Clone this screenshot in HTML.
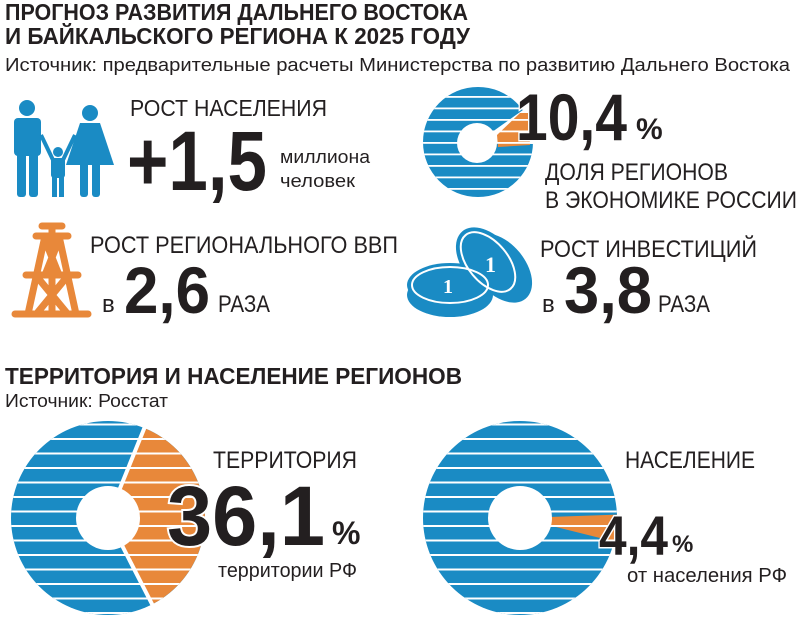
<!DOCTYPE html>
<html><head><meta charset="utf-8"><style>
html,body{margin:0;padding:0;background:#fff;}
svg{display:block;}
text{font-family:"Liberation Sans Narrow","Liberation Sans",sans-serif;fill:#231f20;}
.b{font-weight:bold;}
</style></head><body>
<svg width="800" height="618" viewBox="0 0 800 618" xmlns="http://www.w3.org/2000/svg">
<defs>
<pattern id="st" patternUnits="userSpaceOnUse" width="800" height="14.5" y="3"><rect x="0" y="0" width="800" height="2" fill="#fff"/></pattern>
<pattern id="st2" patternUnits="userSpaceOnUse" width="800" height="11.5" y="4"><rect x="0" y="0" width="800" height="1.8" fill="#fff"/></pattern>
</defs>

<text class="b" x="5" y="20" font-size="23" textLength="463" lengthAdjust="spacingAndGlyphs">ПРОГНОЗ РАЗВИТИЯ ДАЛЬНЕГО ВОСТОКА</text>
<text class="b" x="5" y="44" font-size="23" textLength="465" lengthAdjust="spacingAndGlyphs">И БАЙКАЛЬСКОГО РЕГИОНА К 2025 ГОДУ</text>
<text x="5" y="71" font-size="18" textLength="785" lengthAdjust="spacingAndGlyphs">Источник: предварительные расчеты Министерства по развитию Дальнего Востока</text>

<g fill="#1a8bc4">
<circle cx="27" cy="108" r="8"/>
<rect x="14" y="118" width="27" height="38" rx="4"/>
<rect x="17" y="150" width="9" height="47" rx="3"/>
<rect x="29" y="150" width="9" height="47" rx="3"/>
<circle cx="90" cy="113" r="8"/>
<polygon points="80,123 100,123 114,165 66,165"/>
<rect x="80" y="160" width="8" height="37" rx="3"/>
<rect x="92" y="160" width="8" height="37" rx="3"/>
<circle cx="58" cy="152" r="5"/>
<rect x="51" y="158" width="14" height="20" rx="3"/>
<rect x="52" y="175" width="5" height="22"/>
<rect x="59" y="175" width="5" height="22"/>
<path d="M41,135 L53,160 M75,135 L63,160" stroke="#1a8bc4" stroke-width="4"/>
</g>

<text x="130" y="116" font-size="23" textLength="197" lengthAdjust="spacingAndGlyphs">РОСТ НАСЕЛЕНИЯ</text>
<text class="b" x="127" y="190" font-size="84" textLength="140" lengthAdjust="spacingAndGlyphs">+1,5</text>
<text x="280" y="163" font-size="18" textLength="90" lengthAdjust="spacingAndGlyphs">миллиона</text>
<text x="280" y="187" font-size="18" textLength="75" lengthAdjust="spacingAndGlyphs">человек</text>

<g stroke="#e8883a" stroke-width="7" fill="none" stroke-linecap="round">
<line x1="42" y1="226" x2="62" y2="226"/>
<line x1="36" y1="236" x2="68" y2="236"/>
<line x1="26" y1="275" x2="78" y2="275"/>
<line x1="15" y1="314" x2="88" y2="314"/>
<path d="M45,236 L28,314 M59,236 L76,314 M52,228 L52,314"/>
<path d="M45,240 L59,275 M59,240 L45,275 M38,278 L66,312 M66,278 L38,312"/>
</g>
<text x="90" y="253" font-size="24" textLength="308" lengthAdjust="spacingAndGlyphs">РОСТ РЕГИОНАЛЬНОГО ВВП</text>
<text x="102" y="312" font-size="24">в</text>
<text class="b" x="124" y="313" font-size="66" textLength="86" lengthAdjust="spacingAndGlyphs">2,6</text>
<text x="218" y="312" font-size="24" textLength="52" lengthAdjust="spacingAndGlyphs">РАЗА</text>

<circle cx="478" cy="142" r="55" fill="#1a8bc4"/>
<path d="M478,142 L523,110 A55,55 0 0 1 533,144 Z" fill="#fff"/>
<path d="M497,135 L520,113 L528,113 L530,145 L498,147 Z" fill="#e8883a"/>
<circle cx="478" cy="142" r="55" fill="url(#st2)"/>
<circle cx="477" cy="143" r="20" fill="#fff"/>
<text class="b" x="516" y="140" font-size="66" textLength="111" lengthAdjust="spacingAndGlyphs" stroke="#fff" stroke-width="3" paint-order="stroke">10,4</text>
<text class="b" x="636" y="139" font-size="30">%</text>
<text x="545" y="180" font-size="24" textLength="183" lengthAdjust="spacingAndGlyphs">ДОЛЯ РЕГИОНОВ</text>
<text x="545" y="208" font-size="24" textLength="252" lengthAdjust="spacingAndGlyphs">В ЭКОНОМИКЕ РОССИИ</text>

<g fill="#1a8bc4">
<ellipse cx="500" cy="268" rx="25" ry="40" transform="rotate(-40 500 268)"/>
<ellipse cx="488" cy="262" rx="25" ry="40" transform="rotate(-40 488 262)"/>
<ellipse cx="450" cy="295" rx="43" ry="22"/>
<ellipse cx="450" cy="285" rx="43" ry="22"/>
</g>
<ellipse cx="450" cy="285" rx="38" ry="18" fill="none" stroke="#fff" stroke-width="2"/>
<ellipse cx="488" cy="262" rx="20" ry="35" transform="rotate(-40 488 262)" fill="none" stroke="#fff" stroke-width="2"/>
<text x="443" y="293" font-size="20" class="b" style="fill:#fff;font-family:'Liberation Serif',serif">1</text>
<text x="485" y="272" font-size="22" class="b" style="fill:#fff;font-family:'Liberation Serif',serif">1</text>

<text x="540" y="257" font-size="24" textLength="217" lengthAdjust="spacingAndGlyphs">РОСТ ИНВЕСТИЦИЙ</text>
<text x="542" y="312" font-size="24">в</text>
<text class="b" x="564" y="313" font-size="66" textLength="88" lengthAdjust="spacingAndGlyphs">3,8</text>
<text x="658" y="312" font-size="24" textLength="52" lengthAdjust="spacingAndGlyphs">РАЗА</text>

<text class="b" x="5" y="384" font-size="23" textLength="457" lengthAdjust="spacingAndGlyphs">ТЕРРИТОРИЯ И НАСЕЛЕНИЕ РЕГИОНОВ</text>
<text x="5" y="407" font-size="18" textLength="163" lengthAdjust="spacingAndGlyphs">Источник: Росстат</text>

<circle cx="108" cy="518" r="97" fill="#1a8bc4"/>
<path d="M108,518 L144.4,428.1 A97,97 0 0 1 152,604.4 Z" fill="#e8883a"/>
<circle cx="108" cy="518" r="97" fill="url(#st)"/>
<path d="M108,518 L146,424 M108,518 L154,608" stroke="#fff" stroke-width="4"/>
<circle cx="108" cy="518" r="32" fill="#fff"/>
<text x="213" y="468" font-size="24" textLength="144" lengthAdjust="spacingAndGlyphs">ТЕРРИТОРИЯ</text>
<text class="b" x="167" y="545" font-size="84" textLength="158" lengthAdjust="spacingAndGlyphs" stroke="#fff" stroke-width="4" paint-order="stroke">36,1</text>
<text class="b" x="332" y="544" font-size="32">%</text>
<text x="218" y="577" font-size="20" textLength="139" lengthAdjust="spacingAndGlyphs">территории РФ</text>

<circle cx="520" cy="518" r="97" fill="#1a8bc4"/>
<path d="M520,518 L616.9,514.6 A97,97 0 0 1 614.1,541.5 Z" fill="#e8883a"/>
<circle cx="520" cy="518" r="97" fill="url(#st)"/>
<circle cx="520" cy="518" r="32" fill="#fff"/>
<text x="625" y="468" font-size="24" textLength="130" lengthAdjust="spacingAndGlyphs">НАСЕЛЕНИЕ</text>
<text class="b" x="599" y="555" font-size="56" textLength="69" lengthAdjust="spacingAndGlyphs" stroke="#fff" stroke-width="3" paint-order="stroke">4,4</text>
<text class="b" x="672" y="552" font-size="24">%</text>
<text x="627" y="582" font-size="20" textLength="160" lengthAdjust="spacingAndGlyphs">от населения РФ</text>
</svg>
</body></html>
